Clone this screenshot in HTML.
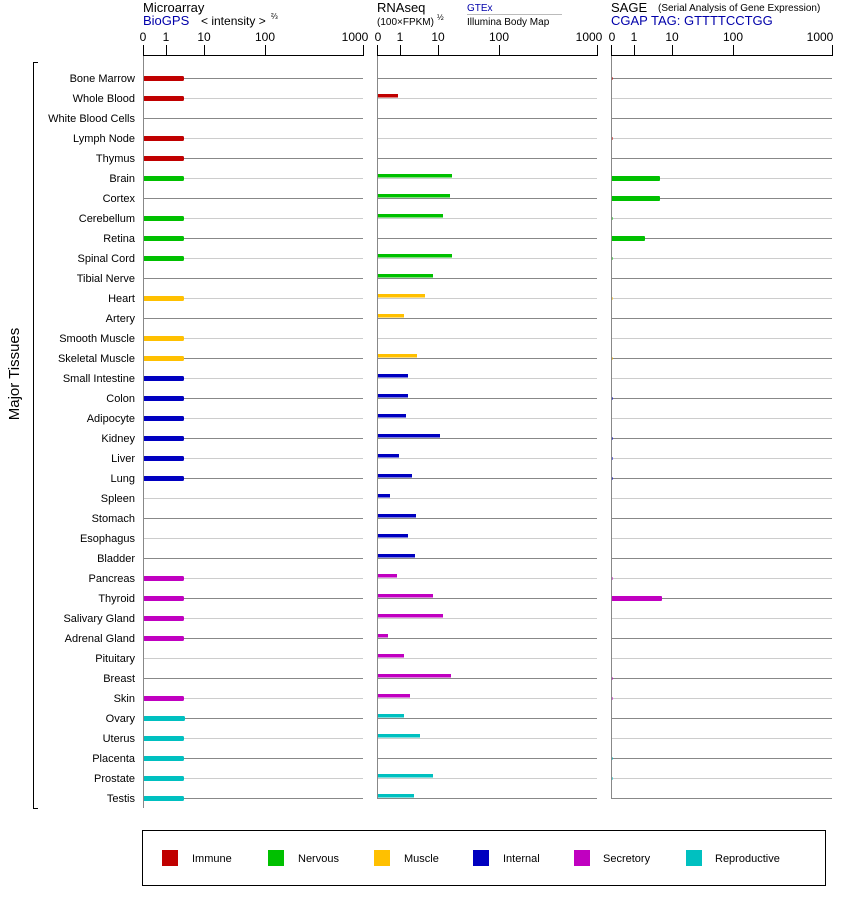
<!DOCTYPE html>
<html><head><meta charset="utf-8"><style>
body{margin:0;background:#fff}
svg{display:block;font-family:"Liberation Sans",Arial,sans-serif}
</style></head><body>
<svg width="842" height="900" viewBox="0 0 842 900" xmlns="http://www.w3.org/2000/svg">
<g font-size="13" fill="#000">
<text x="143" y="12">Microarray</text>
<text x="143" y="25" fill="#0000aa">BioGPS</text>
<text x="201" y="25" font-size="12">&lt; intensity &gt;</text>
<text x="271" y="19" font-size="8">⅔</text>
<text x="377" y="12">RNAseq</text>
<text x="377" y="25" font-size="10">(100×FPKM)</text>
<text x="437" y="20" font-size="8">½</text>
<text x="467" y="11" font-size="10" fill="#0000aa">GTEx</text>
<line x1="467" y1="14.5" x2="562" y2="14.5" stroke="#bbb"/>
<text x="467" y="25" font-size="10">Illumina Body Map</text>
<text x="611" y="12">SAGE</text>
<text x="658" y="11" font-size="10">(Serial Analysis of Gene Expression)</text>
<text x="611" y="25" fill="#0000aa">CGAP TAG: GTTTTCCTGG</text>
</g>
<g stroke="#000" stroke-width="1" fill="none">
<path d="M143.5 45V55.5H363.5V45M166.5 45V55M204.5 45V55M265.5 45V55"/>
<path d="M377.5 45V55.5H597.5V45M400.5 45V55M438.5 45V55M499.5 45V55"/>
<path d="M611.5 45V55.5H832.5V45M634.5 45V55M672.5 45V55M733.5 45V55"/>
<path d="M38 62.5H33.5V808.5H38"/>
</g>
<g font-size="12" text-anchor="middle">
<text x="143" y="41">0</text><text x="166" y="41">1</text><text x="204" y="41">10</text><text x="265" y="41">100</text><text x="355" y="41">1000</text>
<text x="378" y="41">0</text><text x="400" y="41">1</text><text x="438" y="41">10</text><text x="499" y="41">100</text><text x="589" y="41">1000</text>
<text x="612" y="41">0</text><text x="634" y="41">1</text><text x="672" y="41">10</text><text x="733" y="41">100</text><text x="820" y="41">1000</text>
</g>
<text transform="translate(19,374) rotate(-90)" font-size="15" text-anchor="middle">Major Tissues</text>
<path stroke="#888" fill="none" d="M143 78.5H363M377 78.5H597M611 78.5H832M143 118.5H363M377 118.5H597M611 118.5H832M143 158.5H363M377 158.5H597M611 158.5H832M143 198.5H363M377 198.5H597M611 198.5H832M143 238.5H363M377 238.5H597M611 238.5H832M143 278.5H363M377 278.5H597M611 278.5H832M143 318.5H363M377 318.5H597M611 318.5H832M143 358.5H363M377 358.5H597M611 358.5H832M143 398.5H363M377 398.5H597M611 398.5H832M143 438.5H363M377 438.5H597M611 438.5H832M143 478.5H363M377 478.5H597M611 478.5H832M143 518.5H363M377 518.5H597M611 518.5H832M143 558.5H363M377 558.5H597M611 558.5H832M143 598.5H363M377 598.5H597M611 598.5H832M143 638.5H363M377 638.5H597M611 638.5H832M143 678.5H363M377 678.5H597M611 678.5H832M143 718.5H363M377 718.5H597M611 718.5H832M143 758.5H363M377 758.5H597M611 758.5H832M143 798.5H363M377 798.5H597M611 798.5H832"/>
<path stroke="#ccc" fill="none" d="M143 98.5H363M377 98.5H597M611 98.5H832M143 138.5H363M377 138.5H597M611 138.5H832M143 178.5H363M377 178.5H597M611 178.5H832M143 218.5H363M377 218.5H597M611 218.5H832M143 258.5H363M377 258.5H597M611 258.5H832M143 298.5H363M377 298.5H597M611 298.5H832M143 338.5H363M377 338.5H597M611 338.5H832M143 378.5H363M377 378.5H597M611 378.5H832M143 418.5H363M377 418.5H597M611 418.5H832M143 458.5H363M377 458.5H597M611 458.5H832M143 498.5H363M377 498.5H597M611 498.5H832M143 538.5H363M377 538.5H597M611 538.5H832M143 578.5H363M377 578.5H597M611 578.5H832M143 618.5H363M377 618.5H597M611 618.5H832M143 658.5H363M377 658.5H597M611 658.5H832M143 698.5H363M377 698.5H597M611 698.5H832M143 738.5H363M377 738.5H597M611 738.5H832M143 778.5H363M377 778.5H597M611 778.5H832"/>
<g font-size="11" text-anchor="end">
<text x="135" y="82">Bone Marrow</text><text x="135" y="102">Whole Blood</text><text x="135" y="122">White Blood Cells</text><text x="135" y="142">Lymph Node</text><text x="135" y="162">Thymus</text>
<text x="135" y="182">Brain</text><text x="135" y="202">Cortex</text><text x="135" y="222">Cerebellum</text><text x="135" y="242">Retina</text><text x="135" y="262">Spinal Cord</text><text x="135" y="282">Tibial Nerve</text>
<text x="135" y="302">Heart</text><text x="135" y="322">Artery</text><text x="135" y="342">Smooth Muscle</text><text x="135" y="362">Skeletal Muscle</text>
<text x="135" y="382">Small Intestine</text><text x="135" y="402">Colon</text><text x="135" y="422">Adipocyte</text><text x="135" y="442">Kidney</text><text x="135" y="462">Liver</text><text x="135" y="482">Lung</text><text x="135" y="502">Spleen</text><text x="135" y="522">Stomach</text><text x="135" y="542">Esophagus</text><text x="135" y="562">Bladder</text>
<text x="135" y="582">Pancreas</text><text x="135" y="602">Thyroid</text><text x="135" y="622">Salivary Gland</text><text x="135" y="642">Adrenal Gland</text><text x="135" y="662">Pituitary</text><text x="135" y="682">Breast</text><text x="135" y="702">Skin</text>
<text x="135" y="722">Ovary</text><text x="135" y="742">Uterus</text><text x="135" y="762">Placenta</text><text x="135" y="782">Prostate</text><text x="135" y="802">Testis</text>
</g>
<g fill="#c00000">
<rect x="143" y="76" width="41" height="5" rx="1.5"/><rect x="143" y="96" width="41" height="5" rx="1.5"/><rect x="143" y="136" width="41" height="5" rx="1.5"/><rect x="143" y="156" width="41" height="5" rx="1.5"/>
<rect x="378" y="94" width="20" height="3.5"/>
<rect x="611" y="77" width="1.5" height="3"/><rect x="611" y="137" width="1.5" height="3"/>
</g>
<g fill="#00c000">
<rect x="143" y="176" width="41" height="5" rx="1.5"/><rect x="143" y="216" width="41" height="5" rx="1.5"/><rect x="143" y="236" width="41" height="5" rx="1.5"/><rect x="143" y="256" width="41" height="5" rx="1.5"/>
<rect x="378" y="174" width="74" height="3.5"/><rect x="378" y="194" width="72" height="3.5"/><rect x="378" y="214" width="65" height="3.5"/><rect x="378" y="254" width="74" height="3.5"/><rect x="378" y="274" width="55" height="3.5"/>
<rect x="611" y="176" width="49" height="5" rx="1"/><rect x="611" y="196" width="49" height="5" rx="1"/><rect x="611" y="236" width="34" height="5" rx="1"/><rect x="611" y="217" width="1.5" height="3"/><rect x="611" y="257" width="1.5" height="3"/>
</g>
<g fill="#ffc000">
<rect x="143" y="296" width="41" height="5" rx="1.5"/><rect x="143" y="336" width="41" height="5" rx="1.5"/><rect x="143" y="356" width="41" height="5" rx="1.5"/>
<rect x="378" y="294" width="47" height="3.5"/><rect x="378" y="314" width="26" height="3.5"/><rect x="378" y="354" width="39" height="3.5"/>
<rect x="611" y="297" width="1.5" height="3"/><rect x="611" y="357" width="1.5" height="3"/>
</g>
<g fill="#0000c0">
<rect x="143" y="376" width="41" height="5" rx="1.5"/><rect x="143" y="396" width="41" height="5" rx="1.5"/><rect x="143" y="416" width="41" height="5" rx="1.5"/><rect x="143" y="436" width="41" height="5" rx="1.5"/><rect x="143" y="456" width="41" height="5" rx="1.5"/><rect x="143" y="476" width="41" height="5" rx="1.5"/>
<rect x="378" y="374" width="30" height="3.5"/><rect x="378" y="394" width="30" height="3.5"/><rect x="378" y="414" width="28" height="3.5"/><rect x="378" y="434" width="62" height="3.5"/><rect x="378" y="454" width="21" height="3.5"/><rect x="378" y="474" width="34" height="3.5"/><rect x="378" y="494" width="12" height="3.5"/><rect x="378" y="514" width="38" height="3.5"/><rect x="378" y="534" width="30" height="3.5"/><rect x="378" y="554" width="37" height="3.5"/>
<rect x="611" y="397" width="1.5" height="3"/><rect x="611" y="437" width="1.5" height="3"/><rect x="611" y="457" width="1.5" height="3"/><rect x="611" y="477" width="1.5" height="3"/>
</g>
<g fill="#c000c0">
<rect x="143" y="576" width="41" height="5" rx="1.5"/><rect x="143" y="596" width="41" height="5" rx="1.5"/><rect x="143" y="616" width="41" height="5" rx="1.5"/><rect x="143" y="636" width="41" height="5" rx="1.5"/><rect x="143" y="696" width="41" height="5" rx="1.5"/>
<rect x="378" y="574" width="19" height="3.5"/><rect x="378" y="594" width="55" height="3.5"/><rect x="378" y="614" width="65" height="3.5"/><rect x="378" y="634" width="10" height="3.5"/><rect x="378" y="654" width="26" height="3.5"/><rect x="378" y="674" width="73" height="3.5"/><rect x="378" y="694" width="32" height="3.5"/>
<rect x="611" y="596" width="51" height="5" rx="1"/><rect x="611" y="577" width="1.5" height="3"/><rect x="611" y="677" width="1.5" height="3"/><rect x="611" y="697" width="1.5" height="3"/>
</g>
<g fill="#00c0c0">
<rect x="143" y="716" width="42" height="5" rx="1.5"/><rect x="143" y="736" width="41" height="5" rx="1.5"/><rect x="143" y="756" width="41" height="5" rx="1.5"/><rect x="143" y="776" width="41" height="5" rx="1.5"/><rect x="143" y="796" width="41" height="5" rx="1.5"/>
<rect x="378" y="714" width="26" height="3.5"/><rect x="378" y="734" width="42" height="3.5"/><rect x="378" y="774" width="55" height="3.5"/><rect x="378" y="794" width="36" height="3.5"/>
<rect x="611" y="757" width="1.5" height="3"/><rect x="611" y="777" width="1.5" height="3"/>
</g>
<g stroke="#888" stroke-width="1">
<line x1="143.5" y1="56" x2="143.5" y2="808"/>
<line x1="377.5" y1="56" x2="377.5" y2="798"/>
<line x1="611.5" y1="56" x2="611.5" y2="798"/>
</g>
<rect x="142.5" y="830.5" width="683" height="55" fill="none" stroke="#000"/>
<g font-size="11">
<rect x="162" y="850" width="16" height="16" fill="#c00000"/><text x="192" y="862">Immune</text>
<rect x="268" y="850" width="16" height="16" fill="#00c000"/><text x="298" y="862">Nervous</text>
<rect x="374" y="850" width="16" height="16" fill="#ffc000"/><text x="404" y="862">Muscle</text>
<rect x="473" y="850" width="16" height="16" fill="#0000c0"/><text x="503" y="862">Internal</text>
<rect x="574" y="850" width="16" height="16" fill="#c000c0"/><text x="603" y="862">Secretory</text>
<rect x="686" y="850" width="16" height="16" fill="#00c0c0"/><text x="715" y="862">Reproductive</text>
</g>
</svg>
</body></html>
